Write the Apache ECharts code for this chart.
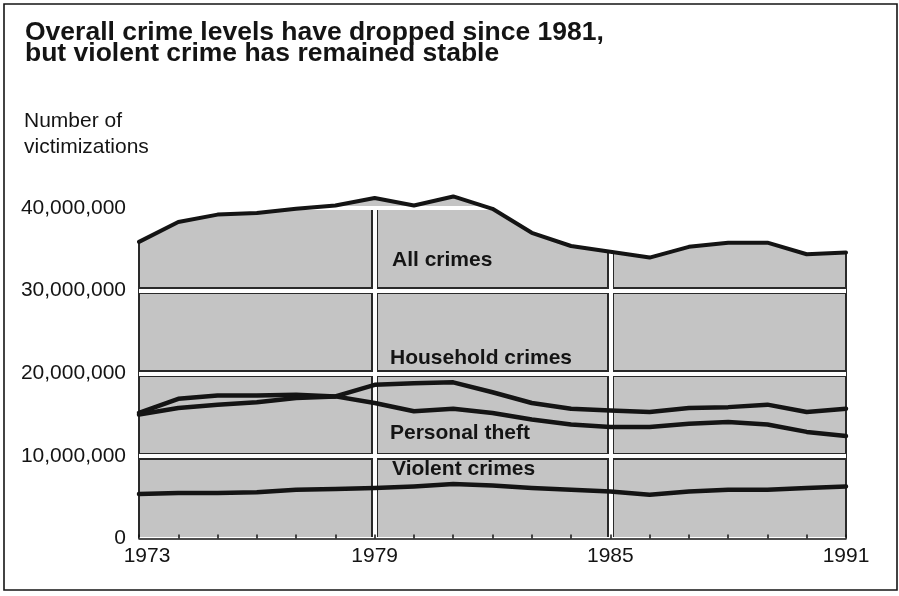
<!DOCTYPE html>
<html>
<head>
<meta charset="utf-8">
<style>
  html, body { margin: 0; padding: 0; background: #ffffff; }
  #chart { width: 899px; height: 596px; }
</style>
<script src="https://cdn.jsdelivr.net/npm/echarts@6/dist/echarts.min.js"></script>
</head>
<body>
<div id="chart"></div>
<script>
// ---- data (millions of victimizations) ----
const years = ['1973','1974','1975','1976','1977','1978','1979','1980','1981','1982',
               '1983','1984','1985','1986','1987','1988','1989','1990','1991'];
const allCrimes       = [35.9, 38.3, 39.2, 39.4, 39.9, 40.3, 41.2, 40.3, 41.4, 39.9, 37.0, 35.4, 34.7, 34.0, 35.3, 35.8, 35.8, 34.4, 34.6];
const householdCrimes = [15.2, 16.9, 17.3, 17.3, 17.4, 17.2, 18.6, 18.8, 18.9, 17.7, 16.4, 15.7, 15.5, 15.3, 15.8, 15.9, 16.2, 15.3, 15.7];
const personalTheft   = [15.0, 15.8, 16.2, 16.5, 17.0, 17.2, 16.4, 15.4, 15.7, 15.2, 14.4, 13.8, 13.5, 13.5, 13.9, 14.1, 13.8, 12.9, 12.4];
const violentCrimes   = [5.4, 5.5, 5.5, 5.6, 5.9, 6.0, 6.1, 6.3, 6.6, 6.4, 6.1, 5.9, 5.7, 5.3, 5.7, 5.9, 5.9, 6.1, 6.3];
const yTickLabels = ['0', '10,000,000', '20,000,000', '30,000,000', '40,000,000'];
const xLabelYears = ['1973', '1979', '1985', '1991'];
const titleText = 'Overall crime levels have dropped since 1981,\nbut violent crime has remained stable';
const yNameText = 'Number of\nvictimizations';
const seriesNames = ['All crimes', 'Household crimes', 'Personal theft', 'Violent crimes'];

const M = 1e6;
const Y_MAX = 40;
const toAbs = arr => arr.map(v => v * M);
const capped = v => Math.min(v, Y_MAX) * M;

const FONT = "'Liberation Sans', Arial, Helvetica, sans-serif";
const INK = '#141414';
const FILL = '#c4c4c4';

const chart = echarts.init(document.getElementById('chart'), null, { renderer: 'canvas' });

function lineSeries(name, data, width) {
  return {
    name: name,
    type: 'line',
    data: toAbs(data),
    showSymbol: false,
    symbol: 'none',
    clip: false,
    z: 6,
    silent: true,
    lineStyle: { color: INK, width: width, cap: 'round', join: 'round' }
  };
}

const darkEdge = { color: '#2a2a2a', width: 7, type: 'solid' };

const option = {
  animation: false,
  backgroundColor: '#ffffff',
  grid: { left: 139, right: 53, top: 208, bottom: 57.5, containLabel: false },
  xAxis: {
    type: 'category',
    data: years,
    boundaryGap: false,
    z: 3,
    axisLine: { show: true, lineStyle: { color: INK, width: 1.5 } },
    axisTick: { show: true, inside: true, length: 4, interval: 0, lineStyle: { color: INK, width: 1.5 } },
    axisLabel: {
      interval: 0,
      margin: 7,
      fontFamily: FONT,
      fontSize: 21,
      color: INK,
      formatter: function (v) {
        if (xLabelYears.indexOf(v) < 0) return '';
        return v === xLabelYears[0] ? '{first|' + v + '}' : v;
      },
      rich: { first: { fontFamily: FONT, fontSize: 21, color: INK, padding: [0, 0, 0, 16] } }
    },
    splitLine: {
      show: true,
      interval: function (idx) { return idx === 6 || idx === 12; },
      lineStyle: { color: '#ffffff', width: 4 }
    }
  },
  yAxis: {
    type: 'value',
    min: 0,
    max: Y_MAX * M,
    interval: 10 * M,
    z: 3,
    axisLine: { show: false },
    axisTick: { show: false },
    axisLabel: {
      margin: 13,
      fontFamily: FONT,
      fontSize: 21,
      color: INK,
      formatter: function (v) { return yTickLabels[Math.round(v / (10 * M))]; }
    },
    splitLine: { show: true, lineStyle: { color: '#ffffff', width: 4 } }
  },
  series: [
    {
      name: 'fill',
      type: 'line',
      data: toAbs(allCrimes),
      showSymbol: false,
      symbol: 'none',
      clip: false,
      silent: true,
      z: 1,
      lineStyle: { width: 0, opacity: 0 },
      areaStyle: { color: FILL, opacity: 1 },
      markLine: {
        silent: true,
        symbol: 'none',
        z: 2,
        animation: false,
        label: { show: false },
        lineStyle: darkEdge,
        data: [
          { yAxis: 10 * M },
          { yAxis: 20 * M },
          { yAxis: 30 * M },
          [{ coord: [years[6], 0] }, { coord: [years[6], capped(allCrimes[6])] }],
          [{ coord: [years[12], 0] }, { coord: [years[12], capped(allCrimes[12])] }],
          [{ coord: [years[0], 0], lineStyle: { width: 2 } }, { coord: [years[0], capped(allCrimes[0])] }],
          [{ coord: [years[18], 0], lineStyle: { width: 2 } }, { coord: [years[18], capped(allCrimes[18])] }]
        ]
      }
    },
    lineSeries(seriesNames[0], allCrimes, 4),
    lineSeries(seriesNames[1], householdCrimes, 4.5),
    lineSeries(seriesNames[2], personalTheft, 4.5),
    lineSeries(seriesNames[3], violentCrimes, 4.5)
  ],
  graphic: [
    {
      type: 'rect', silent: true, z: 0,
      shape: { x: 4, y: 4, width: 893, height: 586 },
      style: { fill: 'none', stroke: INK, lineWidth: 1.6 }
    },
    {
      type: 'text', silent: true, z: 10,
      style: { x: 25, y: 22, text: titleText, font: 'bold 26.5px ' + FONT, lineHeight: 21, fill: INK, verticalAlign: 'top' }
    },
    {
      type: 'text', silent: true, z: 10,
      style: { x: 24, y: 108, text: yNameText, font: '21px ' + FONT, lineHeight: 26, fill: INK, verticalAlign: 'top' }
    },
    {
      type: 'text', silent: true, z: 10,
      style: { x: 392, y: 260, text: seriesNames[0], font: 'bold 21px ' + FONT, fill: INK, verticalAlign: 'middle' }
    },
    {
      type: 'text', silent: true, z: 10,
      style: { x: 390, y: 358, text: seriesNames[1], font: 'bold 21px ' + FONT, fill: INK, verticalAlign: 'middle' }
    },
    {
      type: 'text', silent: true, z: 10,
      style: { x: 390, y: 433, text: seriesNames[2], font: 'bold 21px ' + FONT, fill: INK, verticalAlign: 'middle' }
    },
    {
      type: 'text', silent: true, z: 10,
      style: { x: 392, y: 469, text: seriesNames[3], font: 'bold 21px ' + FONT, fill: INK, verticalAlign: 'middle' }
    }
  ]
};

chart.setOption(option);
</script>
</body>
</html>
